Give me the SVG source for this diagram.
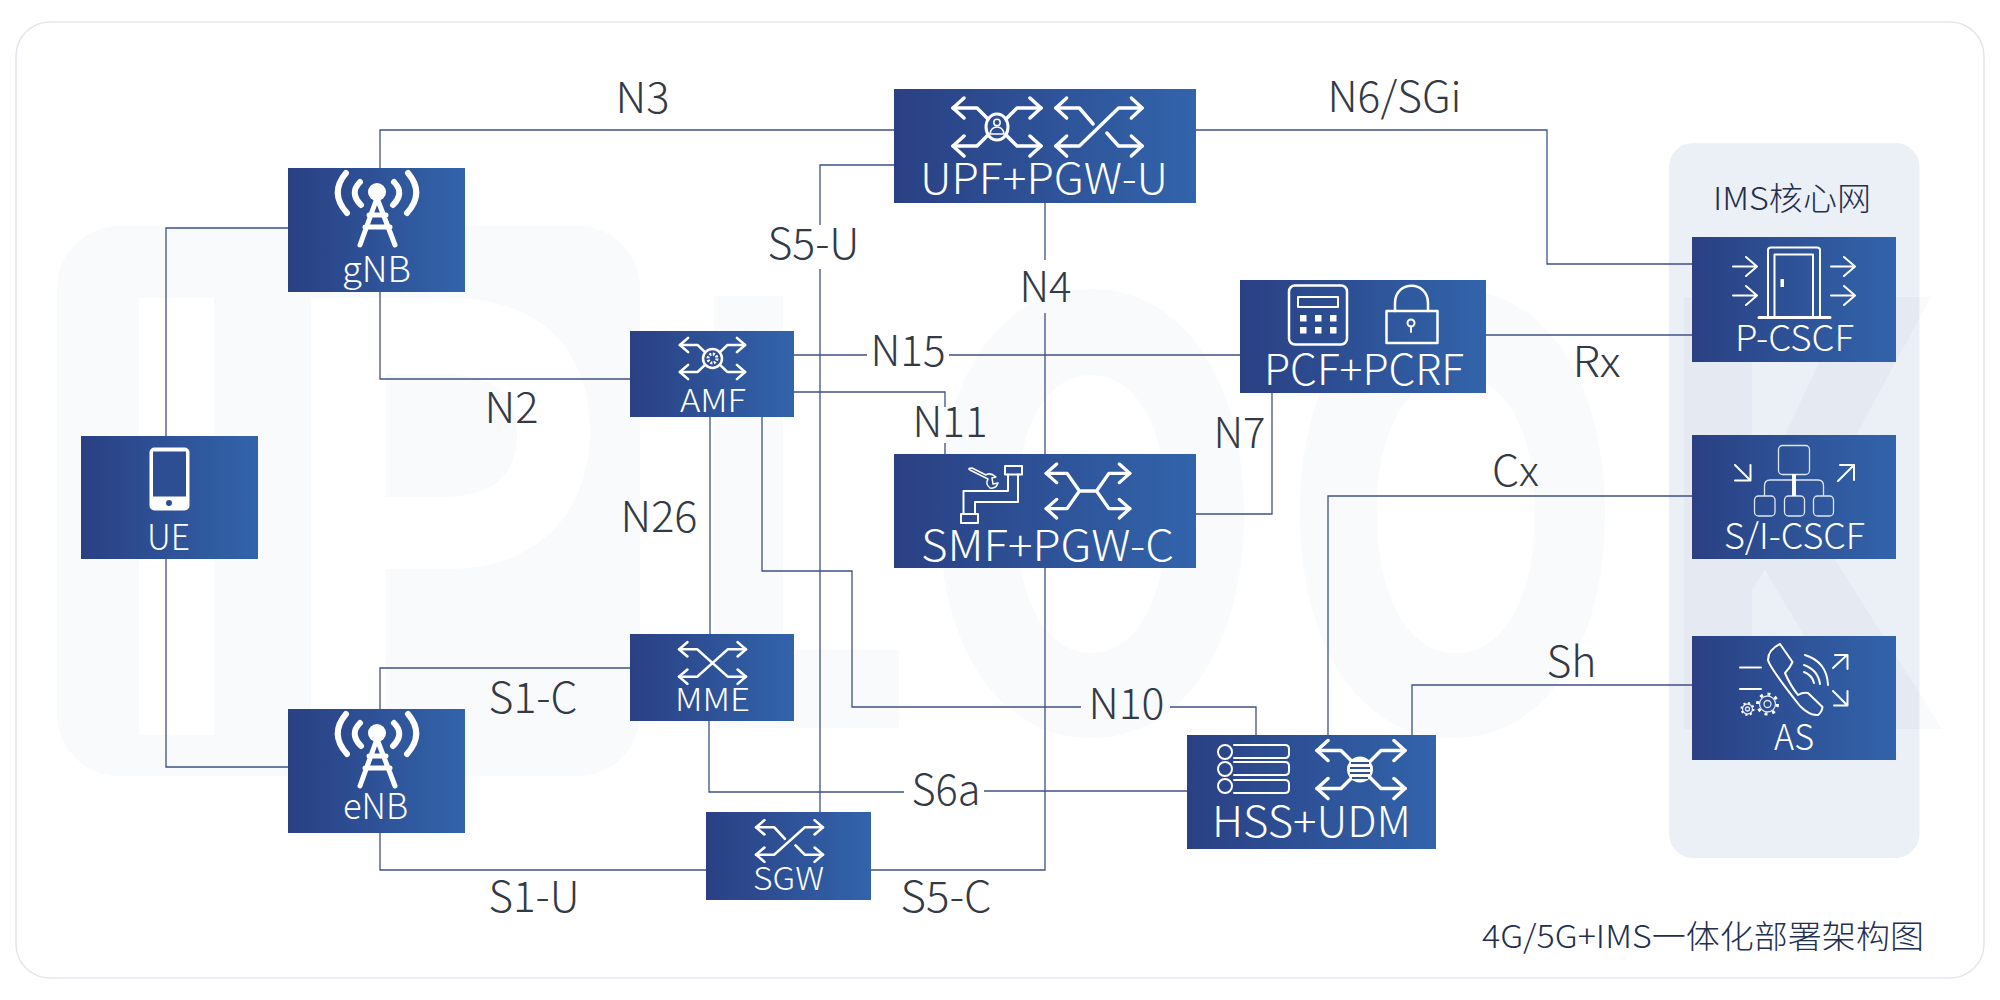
<svg xmlns="http://www.w3.org/2000/svg" xmlns:xlink="http://www.w3.org/1999/xlink" width="2000" height="1000" viewBox="0 0 2000 1000">
<style>
.wire{fill:none;stroke:#3f5088;stroke-width:1.300}
.box{fill:url(#nodeFill)}
.ic{fill:none;stroke:#fff;stroke-width:3.500;stroke-linecap:round;stroke-linejoin:round}
.thin{fill:none;stroke:#fff;stroke-width:2;stroke-linecap:round;stroke-linejoin:round}
.hair{fill:none;stroke:#dfe6f3;stroke-width:1.300;stroke-linejoin:round}
.name{fill:#fff;font-family:"Noto Sans CJK SC","Noto Sans",sans-serif;font-weight:300;font-size:42px}
.small{font-size:35px}
.tiny{font-size:31px}
.lab{fill:#333a45;font-family:"Noto Sans CJK SC","Noto Sans",sans-serif;font-weight:300;font-size:42px}
.mark{fill:#1e3a7a;fill-opacity:.028}
.title{fill:#232f4e;font-family:"Noto Sans CJK SC","Noto Sans",sans-serif;font-weight:300}
</style>
<defs>
<linearGradient id="nodeFill" x1="0" y1="0" x2="1" y2="0"><stop offset="0" stop-color="#2a4083"/><stop offset="1" stop-color="#3264ab"/></linearGradient>
<g id="heads">
<path d="M-44,-19l11,-10M-44,-19l11,10M-44,19l11,-10M-44,19l11,10M44,-19l-11,-10M44,-19l-11,10M44,19l-11,-10M44,19l-11,10"/>
</g>
<g id="hub" class="ic"><use xlink:href="#heads"/><path d="M-44,-19H-20L-8,-7M-44,19H-20L-8,7M44,-19H20L8,-7M44,19H20L8,7"/></g>
<g id="shuffle" class="ic"><use xlink:href="#heads"/><path d="M-44,-19H-20L-6,-3M44,-19H20L-20,19H-44M44,19H20L8,6"/></g>
<g id="cross" class="ic"><use xlink:href="#heads"/><path d="M-44,-19H-20L20,19H44M-44,19H-20L20,-19H44"/></g>
<g id="bridge" class="ic"><use xlink:href="#heads"/><path d="M-44,-19H-22L-9,0L-22,19H-44M44,-19H22L9,0L22,19H44M-9,0H9"/></g>
<g id="tower">
<g fill="none" stroke="#fff" stroke-width="6" stroke-linecap="round"><path d="M346,173Q329,193 347,213M360,182Q349,193 361,205M408,173Q425,193 407,213M394,182Q405,193 393,205"/></g>
<circle cx="377" cy="192" r="9" fill="#fff"/>
<path d="M377,198L360,245M377,198L395,245M369,215H386M365,227H390" fill="none" stroke="#fff" stroke-width="5" stroke-linecap="round"/>
</g>
</defs>

<!-- card -->
<rect x="16" y="22" width="1968" height="956" rx="34" fill="#fff" stroke="#e2e6ec" stroke-width="1.500"/>

<!-- faint brand lettering behind the network -->
<g id="brand">
<rect x="57" y="226" width="583" height="550" rx="62" class="mark"/>
<rect x="139" y="298" width="75" height="437" fill="#fff"/>
<path fill="#fff" fill-rule="evenodd" d="M311,298H450C540,298 590,350 590,430C590,520 530,569 450,569H386V735H311ZM386,374V497H440C495,497 517,475 517,432C517,395 495,374 440,374Z"/>
<path class="mark" d="M714,296H783V650H899V728H714Z"/>
<path class="mark" fill-rule="evenodd" d="M1091,289C1183,289 1244,380 1244,513C1244,647 1183,738 1091,738C999,738 939,647 939,513C939,380 999,289 1091,289ZM1091,375C1045,375 1016,430 1016,513C1016,597 1045,653 1091,653C1137,653 1167,597 1167,513C1167,430 1137,375 1091,375Z"/>
<path class="mark" fill-rule="evenodd" d="M1453,289C1545,289 1605,380 1605,513C1605,647 1545,738 1453,738C1361,738 1300,647 1300,513C1300,380 1361,289 1453,289ZM1456,375C1408,375 1377,430 1377,513C1377,597 1408,653 1456,653C1504,653 1535,597 1535,513C1535,430 1504,375 1456,375Z"/>
</g>

<g id="ims-panel">
<rect x="1669" y="143" width="250.500" height="715" rx="24" fill="#ebeff6"/>
<path class="mark" d="M1684,297H1752V505L1850,297H1931L1810,520L1942,729H1860L1765,570L1752,590V729H1684Z"/>
<text class="title" x="1713" y="210" font-size="32" textLength="158" lengthAdjust="spacingAndGlyphs">IMS核心网</text>
</g>

<g id="connectors">
<path class="wire" d="M894,130H380V168"/>
<path class="wire" d="M288,228H166V436"/>
<path class="wire" d="M166,559V767H288"/>
<path class="wire" d="M380,292V379H630"/>
<path class="wire" d="M630,668H380V709"/>
<path class="wire" d="M380,833V870H706"/>
<path class="wire" d="M794,355H867M949,355H1240"/>
<path class="wire" d="M794,392H945V407M945,443V454"/>
<path class="wire" d="M710,417V634"/>
<path class="wire" d="M762,417V571H852V707H1081M1170,707H1256V735"/>
<path class="wire" d="M709,721V792H904M984,791H1187"/>
<path class="wire" d="M894,165H820V225M820,269V812"/>
<path class="wire" d="M1045,203V260M1045,313V454"/>
<path class="wire" d="M1045,568V870H871"/>
<path class="wire" d="M1196,130H1547V264H1692"/>
<path class="wire" d="M1486,335H1692"/>
<path class="wire" d="M1196,514H1272V393"/>
<path class="wire" d="M1328,735V496H1692"/>
<path class="wire" d="M1412,735V685H1692"/>
</g>

<g id="gNB"><rect class="box" x="288" y="168" width="177" height="124"/><use xlink:href="#tower"/><text class="name small" x="342" y="282" textLength="69" lengthAdjust="spacingAndGlyphs">gNB</text></g>
<g id="eNB"><rect class="box" x="288" y="709" width="177" height="124"/><use xlink:href="#tower" transform="translate(0,541)"/><text class="name small" x="343" y="819" textLength="65" lengthAdjust="spacingAndGlyphs">eNB</text></g>
<g id="UE"><rect class="box" x="81" y="436" width="177" height="123"/>
<rect x="149.500" y="447.500" width="40" height="63" rx="5" fill="#fff"/><rect x="153" y="451.500" width="33" height="45" fill="#2e4e94"/><circle cx="169" cy="503" r="3" fill="#2e4e94"/>
<text class="name small" x="147" y="550" textLength="43" lengthAdjust="spacingAndGlyphs">UE</text></g>

<g id="AMF"><rect class="box" x="630" y="331" width="164" height="86"/>
<use xlink:href="#hub" transform="translate(712.500,358.500) scale(.74,.71)"/>
<circle cx="712.500" cy="358.500" r="9.500" fill="#2f4f95" stroke="#fff" stroke-width="2.500"/><circle cx="712.500" cy="358.500" r="4.500" fill="none" stroke="#fff" stroke-width="3" stroke-dasharray="2 1.500"/>
<text class="name tiny" x="680" y="412" textLength="66" lengthAdjust="spacingAndGlyphs">AMF</text></g>

<g id="MME"><rect class="box" x="630" y="634" width="164" height="87"/><use xlink:href="#cross" transform="translate(712.500,663) scale(.76,.72)"/><text class="name tiny" x="675" y="711" textLength="75" lengthAdjust="spacingAndGlyphs">MME</text></g>

<g id="SGW"><rect class="box" x="706" y="812" width="165" height="88"/><use xlink:href="#shuffle" transform="translate(789.500,841) scale(.76,.72)"/><text class="name tiny" x="753" y="890" textLength="71" lengthAdjust="spacingAndGlyphs">SGW</text></g>

<g id="UPF-PGW-U"><rect class="box" x="894" y="89" width="302" height="114"/>
<use xlink:href="#hub" transform="translate(997,127)"/><use xlink:href="#shuffle" transform="translate(1099,127) scale(.98,1)"/>
<ellipse cx="997" cy="127" rx="11" ry="13" fill="#2f4f95" stroke="#fff" stroke-width="3"/>
<circle cx="997" cy="122.500" r="3.200" fill="none" stroke="#fff" stroke-width="1.500"/><path d="M990,134Q991,127 997,127Q1003,127 1004,134Z" fill="none" stroke="#fff" stroke-width="1.500"/>
<text class="name" x="920" y="194" textLength="248" lengthAdjust="spacingAndGlyphs">UPF+PGW-U</text></g>

<g id="SMF-PGW-C"><rect class="box" x="894" y="454" width="302" height="114"/>
<rect class="thin" x="1005" y="466" width="17" height="8.500"/><rect class="thin" x="961" y="514" width="17" height="9"/>
<path class="thin" d="M1008,474.500V491H963.500V514M1018,474.500V502H975V514"/>
<path d="M970,470L988,479Q985,484 990,488Q996,489 998,483L993,484L992,478L996,477Q990,472 986,475L972,468Q967,468 970,470Z" fill="none" stroke="#fff" stroke-width="1.500" stroke-linejoin="round"/>
<use xlink:href="#bridge" transform="translate(1088,491) scale(.95,.93)"/>
<text class="name" x="921" y="561" textLength="253" lengthAdjust="spacingAndGlyphs">SMF+PGW-C</text></g>

<g id="PCF-PCRF"><rect class="box" x="1240" y="280" width="246" height="113"/>
<rect class="thin" x="1289" y="285.500" width="58" height="59" rx="6" style="stroke-width:2.500"/>
<rect class="thin" x="1298" y="297" width="40" height="10"/>
<g fill="#fff"><rect x="1300" y="315" width="6.500" height="6.500"/><rect x="1315" y="315" width="6.500" height="6.500"/><rect x="1330" y="315" width="6.500" height="6.500"/><rect x="1300" y="327" width="6.500" height="6.500"/><rect x="1315" y="327" width="6.500" height="6.500"/><rect x="1330" y="327" width="6.500" height="6.500"/></g>
<rect class="thin" x="1386.500" y="311" width="51" height="32" style="stroke-width:2.500"/>
<path class="thin" d="M1395,311V303C1395,280 1428,280 1428,303V311" style="stroke-width:2.500"/>
<circle cx="1411" cy="323" r="3.500" class="thin"/><path class="thin" d="M1411,326.500V332"/>
<text class="name" x="1264" y="385" textLength="200" lengthAdjust="spacingAndGlyphs">PCF+PCRF</text></g>

<g id="HSS-UDM"><rect class="box" x="1187" y="735" width="249" height="114"/>
<g class="thin"><circle cx="1225" cy="752" r="7"/><circle cx="1225" cy="769" r="7"/><circle cx="1225" cy="786" r="7"/>
<path d="M1234,745H1285Q1289,745 1289,749V754Q1289,758 1285,758H1234M1234,762H1285Q1289,762 1289,766V771Q1289,775 1285,775H1234M1234,780H1285Q1289,780 1289,784V789Q1289,793 1285,793H1234"/></g>
<use xlink:href="#hub" transform="translate(1361,769.500)"/>
<circle cx="1360" cy="769.500" r="13" fill="#fff"/>
<path d="M1351,763H1369M1350,768H1370M1350,773H1370M1352,778H1368" stroke="#2f4f95" stroke-width="1.800" fill="none"/>
<text class="name" x="1212" y="837" textLength="199" lengthAdjust="spacingAndGlyphs">HSS+UDM</text></g>

<g id="P-CSCF"><rect class="box" x="1692" y="237" width="204" height="125"/>
<path class="thin" d="M1768,316V250Q1768,247.500 1771,247.500H1817Q1820,247.500 1820,250V316M1774.500,316V254.500H1813V316"/>
<path class="thin" d="M1759,317.500H1830" style="stroke-width:3"/>
<rect x="1780.500" y="279" width="3.500" height="8" fill="#fff"/>
<path class="thin" d="M1733,266.500H1756M1746,257L1757,266.500L1746,276M1733,295.500H1756M1746,286L1757,295.500L1746,305M1831,266.500H1854M1844,257L1855,266.500L1844,276M1831,295.500H1854M1844,286L1855,295.500L1844,305"/>
<text class="name small" x="1735" y="351" textLength="119" lengthAdjust="spacingAndGlyphs">P-CSCF</text></g>

<g id="S-I-CSCF"><rect class="box" x="1692" y="435" width="204" height="124"/>
<rect class="hair" x="1778.500" y="445.500" width="31" height="29" rx="4"/>
<rect class="hair" x="1754.500" y="496" width="20.500" height="20" rx="4"/><rect class="hair" x="1784.500" y="496" width="20" height="20" rx="4"/><rect class="hair" x="1813.500" y="496" width="20" height="20" rx="4"/>
<path class="hair" d="M1764.500,496V486Q1764.500,480 1770,480H1818Q1823.500,480 1823.500,486V496"/>
<path d="M1794,474V496" stroke="#fff" stroke-width="4"/>
<path class="thin" d="M1735,465L1750,480M1735,480.500H1750.500V465M1838,481L1853,466M1840,465H1854V480"/>
<text class="name small" x="1724" y="549" textLength="141" lengthAdjust="spacingAndGlyphs">S/I-CSCF</text></g>

<g id="AS"><rect class="box" x="1692" y="636" width="204" height="124"/>
<path class="thin" d="M1740,667.500H1761M1740,689H1761"/>
<path class="thin" d="M1780,644Q1768,650 1768,660Q1770,668 1800,706Q1810,716 1818,715Q1822,712 1822.500,707L1808,693Q1803,692 1798,695Q1790,685 1785,673Q1790,668 1792.500,662Z"/>
<path class="thin" d="M1805,655Q1827,662 1828,685M1804,665Q1818,670 1820,684M1804,672Q1812,675 1814,683"/>
<path class="thin" d="M1833,668L1847,655M1835,655H1847.500V669M1833,691L1847,705M1847.500,691V705.500H1834"/>
<circle cx="1767.500" cy="704" r="8" class="hair"/><circle cx="1767.500" cy="704" r="3.500" class="hair"/>
<circle cx="1767.500" cy="704" r="10" fill="none" stroke="#fff" stroke-width="3" stroke-dasharray="3 4.800"/>
<circle cx="1747.500" cy="709" r="5" class="hair"/><circle cx="1747.500" cy="709" r="2" class="hair"/>
<circle cx="1747.500" cy="709" r="6" fill="none" stroke="#fff" stroke-width="2" stroke-dasharray="2 2.700"/>
<text class="name small" x="1774" y="750" textLength="40" lengthAdjust="spacingAndGlyphs">AS</text></g>

<g id="labels">
<text class="lab" x="615.500" y="113" textLength="54" lengthAdjust="spacingAndGlyphs">N3</text>
<text class="lab" x="1327.500" y="112" textLength="134" lengthAdjust="spacingAndGlyphs">N6/SGi</text>
<text class="lab" x="484.500" y="423" textLength="54" lengthAdjust="spacingAndGlyphs">N2</text>
<text class="lab" x="620.500" y="532" textLength="77" lengthAdjust="spacingAndGlyphs">N26</text>
<text class="lab" x="1019.500" y="302" textLength="52" lengthAdjust="spacingAndGlyphs">N4</text>
<text class="lab" x="870.500" y="366" textLength="75" lengthAdjust="spacingAndGlyphs">N15</text>
<text class="lab" x="912.500" y="437" textLength="75" lengthAdjust="spacingAndGlyphs">N11</text>
<text class="lab" x="1213.500" y="448" textLength="52" lengthAdjust="spacingAndGlyphs">N7</text>
<text class="lab" x="1492" y="486" textLength="47" lengthAdjust="spacingAndGlyphs">Cx</text>
<text class="lab" x="1572.500" y="377" textLength="48" lengthAdjust="spacingAndGlyphs">Rx</text>
<text class="lab" x="1546.500" y="677" textLength="50" lengthAdjust="spacingAndGlyphs">Sh</text>
<text class="lab" x="1088.500" y="719" textLength="76" lengthAdjust="spacingAndGlyphs">N10</text>
<text class="lab" x="911.500" y="805" textLength="69" lengthAdjust="spacingAndGlyphs">S6a</text>
<text class="lab" x="767.500" y="259" textLength="92" lengthAdjust="spacingAndGlyphs">S5-U</text>
<text class="lab" x="488.500" y="713" textLength="89" lengthAdjust="spacingAndGlyphs">S1-C</text>
<text class="lab" x="488.500" y="912" textLength="91" lengthAdjust="spacingAndGlyphs">S1-U</text>
<text class="lab" x="900.500" y="912" textLength="91" lengthAdjust="spacingAndGlyphs">S5-C</text>
</g>
<text class="title" x="1482" y="948" font-size="32" textLength="442" lengthAdjust="spacingAndGlyphs">4G/5G+IMS一体化部署架构图</text>
</svg>
